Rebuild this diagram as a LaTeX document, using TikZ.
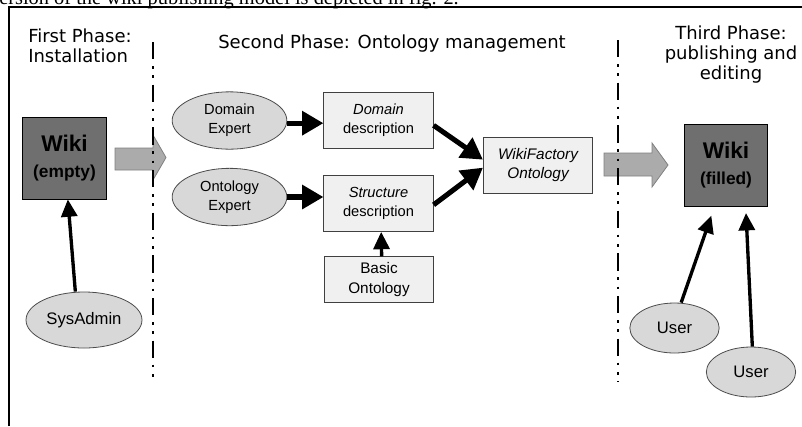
\documentclass[tikz,border=0pt]{standalone}
\usepackage{fontspec}
\setmainfont{Liberation Sans}
\newfontfamily\headfont{DejaVu Sans}
\newfontfamily\paperfont{Liberation Serif}
\usetikzlibrary{shapes.geometric,arrows.meta}

\definecolor{actorgray}{HTML}{D8D8D8}
\definecolor{boxgray}{HTML}{F0F0F0}
\definecolor{wikigray}{HTML}{6F6F6F}
\definecolor{blockgray}{HTML}{ABABAB}

\begin{document}
\begin{tikzpicture}[x=0.75pt, y=-0.75pt,
  font=\fontsize{11}{14}\selectfont,
  actor/.style={ellipse, draw=black!70, fill=actorgray, line width=0.6pt, align=center,
                inner sep=0pt, minimum width=86pt, minimum height=43pt},
  descbox/.style={rectangle, draw=black!75, fill=boxgray, line width=0.6pt, align=center,
                  inner sep=0pt, minimum width=82pt, minimum height=42pt},
  wikibox/.style={rectangle, draw=black, fill=wikigray, line width=0.6pt, align=center,
                  inner sep=0pt, minimum width=62.5pt, minimum height=61.5pt},
  flow/.style={-{Triangle[length=16pt,width=17.5pt]}, line width=3.8pt},
  thinflow/.style={-{Triangle[length=13pt,width=12pt]}, line width=2.5pt},
  phase/.style={font=\headfont\fontsize{13.5}{15}\selectfont, inner sep=0pt},
  border/.style={line width=2.2pt, dash pattern=on 13pt off 5pt on 2pt off 5pt on 2pt off 5pt},
  block/.style={draw=black!50, fill=blockgray, line width=0.6pt},
]
\useasboundingbox (0,0) rectangle (802,426);

% page of the paper round the figure
\begin{scope}
  \clip (0,0) rectangle (802,426);
  \node[font=\paperfont\fontsize{15.3}{18}\selectfont, anchor=base west, inner sep=0pt]
    (papertext) at (-1,4.5) {ersion of the wiki publishing model is depicted in fig. 2.};
\end{scope}
\draw[line width=1.5pt] (9,426) -- (9,7) -- (802,7);

% phase headings
\node[phase, align=left, anchor=west] (phase1) at (28,46) {First Phase:\\Installation};
\node[phase] (phase2) at (392,44) {Second Phase: Ontology management};
\node[phase, align=center] (phase3) at (731,55) {Third Phase:\\publishing and\\editing};

% first phase
\node[wikibox] (wikiempty) at (64.5,158)
  {{\fontsize{17}{20}\selectfont\bfseries Wiki}\\[5pt]{\fontsize{13}{15}\selectfont\bfseries (empty)}};
\node[actor, font=\fontsize{12.5}{15}\selectfont, minimum width=87pt, minimum height=42pt]
  (sysadmin) at (84,320) {SysAdmin};

% second phase
\node[actor] (domexp) at (229.5,120.5) {Domain\\Expert};
\node[actor] (ontexp) at (229.5,197) {Ontology\\Expert};
\node[descbox] (domdesc) at (378.5,120) {\textit{Domain}\\description};
\node[descbox] (strdesc) at (378.5,203.5) {\textit{Structure}\\description};
\node[descbox, minimum height=34pt, font=\fontsize{11.5}{14.5}\selectfont]
  (basic) at (379,279.5) {Basic\\Ontology};
\node[descbox, font=\fontsize{11.5}{14.5}\itshape] (wfont) at (538,165) {WikiFactory\\Ontology};

% third phase
\node[wikibox] (wikifilled) at (726,165)
  {{\fontsize{17}{20}\selectfont\bfseries Wiki}\\[5pt]{\fontsize{13}{15}\selectfont\bfseries (filled)}};
\node[actor, font=\fontsize{12.5}{15}\selectfont, minimum width=67pt, minimum height=37.5pt]
  (user1) at (674.5,328) {User};
\node[actor, font=\fontsize{12.5}{15}\selectfont, minimum width=67pt, minimum height=37.5pt]
  (user2) at (751,372) {User};

% block arrows between the phases
\draw[block] (115,148) -- (153,148) -- (153,135) -- (166,157.5) -- (153,180) -- (153,170) -- (115,170) -- cycle;
\draw[block] (604,153) -- (652,153) -- (652,143) -- (668,165) -- (652,187) -- (652,176) -- (604,176) -- cycle;

% phase borders
\draw[border] (153,42) -- (153,378);
\draw[border] (618,40) -- (618,382);

% connectors
\draw[thinflow] ([xshift=-6.5pt]sysadmin.north) -- ([xshift=2.5pt]wikiempty.south);
\draw[flow] ([yshift=-2pt]domexp.east) -- ([yshift=-2pt]domexp.east -| domdesc.west);
\draw[flow] (ontexp.east) -- (ontexp.east -| strdesc.west);
\draw[thinflow] ([xshift=2pt]basic.north) -- ([xshift=2pt]strdesc.south);
\draw[flow] ([yshift=-4pt]domdesc.east) -- ([yshift=4pt]wfont.west);
\draw[flow] ([yshift=-1pt]strdesc.east) -- ([yshift=-2pt]wfont.west);
\draw[thinflow] ([xshift=5pt]user1.north) -- ([xshift=-11pt,yshift=-7pt]wikifilled.south);
\draw[thinflow] ([xshift=1pt]user2.north) -- ([xshift=15pt,yshift=-5pt]wikifilled.south);
\end{tikzpicture}
\end{document}
